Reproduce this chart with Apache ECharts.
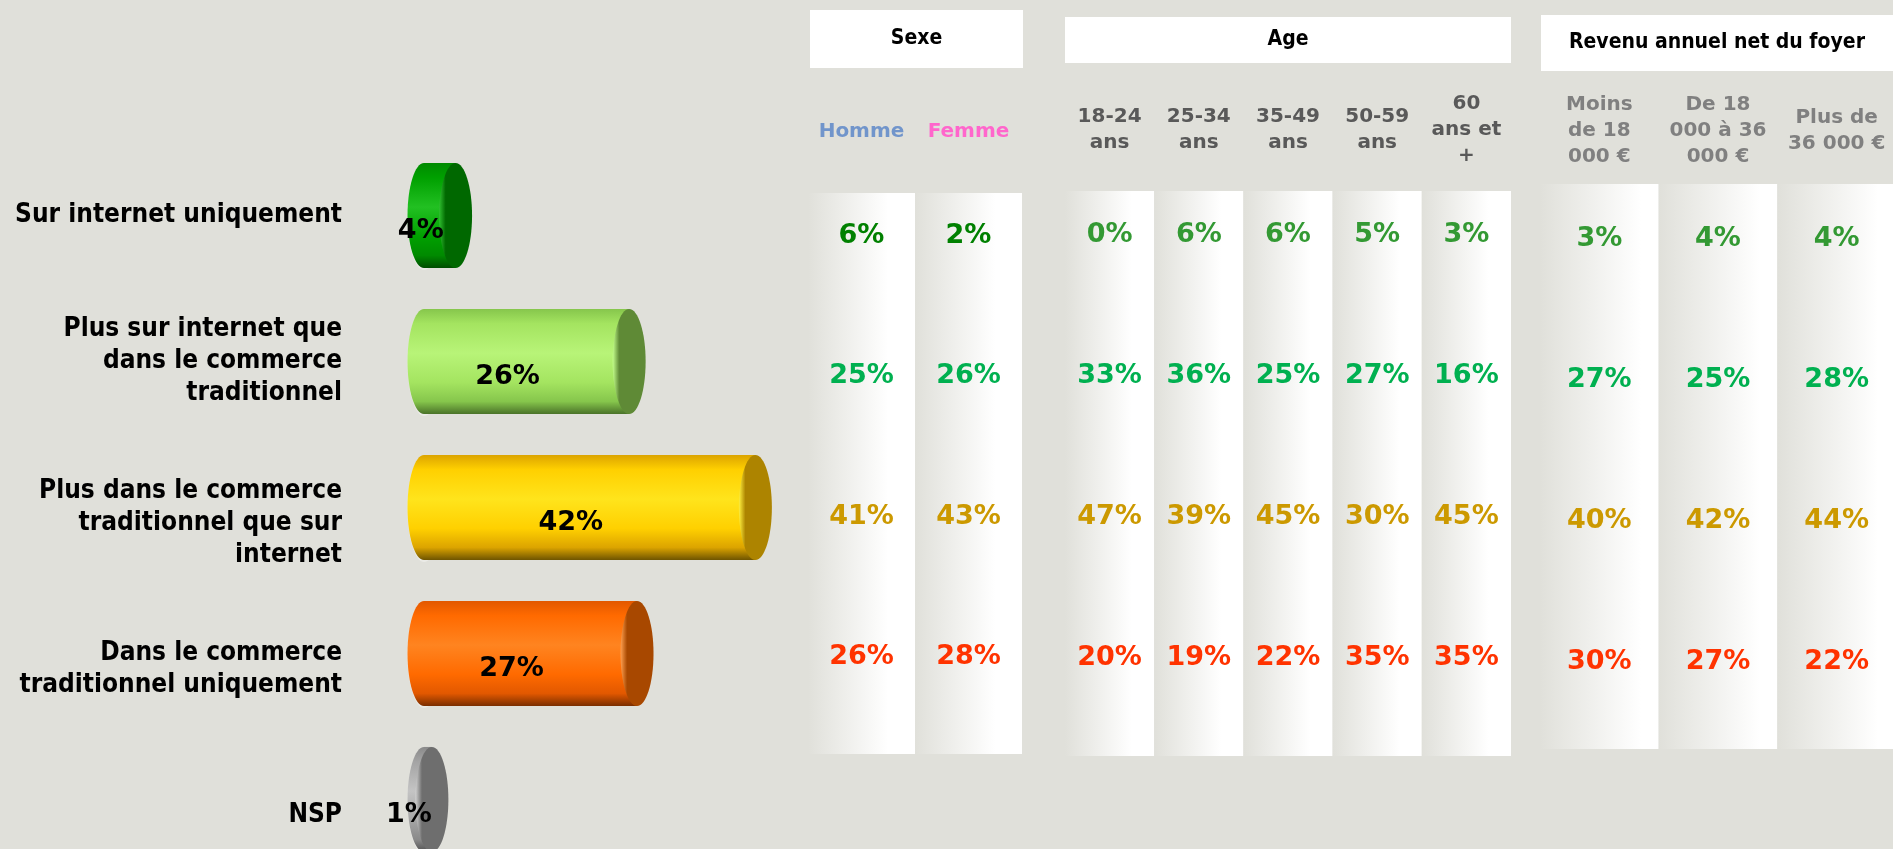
<!DOCTYPE html>
<html>
<head>
<meta charset="utf-8">
<title>Achats sur internet / commerce traditionnel</title>
<script src="https://cdn.jsdelivr.net/npm/echarts@6/dist/echarts.min.js"></script>
<style>
  html, body { margin: 0; padding: 0; background: #e0e0da; }
  #main { width: 1893px; height: 849px; }
</style>
</head>
<body>
<div id="main"></div>
<script>
// ---- data ----
var categories = [
  'Sur internet uniquement',
  'Plus sur internet que\ndans le commerce\ntraditionnel',
  'Plus dans le commerce\ntraditionnel que sur\ninternet',
  'Dans le commerce\ntraditionnel uniquement',
  'NSP'
];
var totals = [4, 26, 42, 27, 1];

var rowKeys = ['r1', 'r2', 'r3', 'r4'];

var sexeCols = ['Homme', 'Femme'];
var sexeValues = [
  [6, 2],
  [25, 26],
  [41, 43],
  [26, 28]
];

var ageCols = ['18-24\nans', '25-34\nans', '35-49\nans', '50-59\nans', '60\nans et\n+'];
var ageValues = [
  [0, 6, 6, 5, 3],
  [33, 36, 25, 27, 16],
  [47, 39, 45, 30, 45],
  [20, 19, 22, 35, 35]
];

var revenuCols = ['Moins\nde 18\n000 €', 'De 18\n000 à 36\n000 €', 'Plus de\n36 000 €'];
var revenuValues = [
  [3, 4, 4],
  [27, 25, 28],
  [40, 42, 44],
  [30, 27, 22]
];

// ---- styles ----
var BG = '#e0e0da';
var FONT = "'DejaVu Sans', Verdana, sans-serif";
var FONT_COND = "'DejaVu Sans Condensed', 'DejaVu Sans', sans-serif";

// cylinder colours: [top, main, light, bottom, cap, capLight]
var barColors = [
  ['#008a00', '#00a000', '#22c022', '#004d00', '#006800', '#30c030'],
  ['#86c64c', '#a4e460', '#b8f478', '#4a7229', '#5f8a36', '#c4ff8c'],
  ['#dca400', '#ffd000', '#ffe41c', '#6e5400', '#ad8400', '#fff040'],
  ['#e25800', '#ff6a00', '#ff8420', '#7a2e00', '#a84800', '#ffa050'],
  ['#8a8a8a', '#a4a4a4', '#c4c4c4', '#505050', '#6e6e6e', '#d0d0d0']
];
var rowColors = ['#339933', '#00b050', '#cc9900', '#ff3300'];
var sexeRow1Color = '#008000';

function vGrad(c) {
  return new echarts.graphic.LinearGradient(0, 0, 0, 1, [
    { offset: 0, color: c[0] },
    { offset: 0.14, color: c[1] },
    { offset: 0.42, color: c[2] },
    { offset: 0.7, color: c[1] },
    { offset: 0.88, color: c[0] },
    { offset: 1, color: c[3] }
  ]);
}

function renderCylinder(params, api) {
  var i = api.value(1);
  var v = api.value(0);
  var start = api.coord([0, i]);
  var end = api.coord([v, i]);
  var h = api.size([0, 1])[1] * 0.72;
  var rx = 16.5;
  var c = barColors[i];
  var x0 = start[0], xe = end[0], yc = start[1];
  return {
    type: 'group',
    children: [
      { type: 'ellipse', shape: { cx: x0, cy: yc + 1, rx: rx, ry: h / 2 + 1 },
        style: { fill: 'rgba(255,255,255,0.35)' } },
      { type: 'ellipse', shape: { cx: x0, cy: yc, rx: rx, ry: h / 2 },
        style: { fill: vGrad(c) } },
      { type: 'rect', shape: { x: x0, y: yc - h / 2, width: xe - x0, height: h },
        style: { fill: vGrad(c) } },
      { type: 'ellipse', shape: { cx: xe, cy: yc, rx: rx, ry: h / 2 },
        style: { fill: new echarts.graphic.LinearGradient(0, 0, 1, 0, [
          { offset: 0, color: c[5] },
          { offset: 0.2, color: c[4] },
          { offset: 1, color: c[4] }
        ]) } },
      { type: 'text', x: x0 + (xe - x0) / 2 - 19, y: yc + 15,
        style: { text: v + '%', fill: '#000', font: 'bold 27px ' + FONT,
                 align: 'center', verticalAlign: 'middle' } }
    ]
  };
}

function stripSeries(idx, cols, grad) {
  return {
    type: 'custom', xAxisIndex: idx, yAxisIndex: idx, silent: true,
    data: cols.map(function (c, i) { return [i, 0]; }),
    renderItem: function (params, api) {
      var p = api.coord([api.value(0), 0]);
      var bw = api.size([1, 0])[0];
      var cs = params.coordSys;
      return {
        type: 'rect',
        shape: { x: p[0] - bw / 2, y: cs.y, width: bw, height: cs.height },
        style: { fill: new echarts.graphic.LinearGradient(0, 0, 1, 0, [
          { offset: 0, color: BG },
          { offset: grad, color: '#ffffff' },
          { offset: 1, color: '#ffffff' }
        ]) }
      };
    }
  };
}

function valueSeries(idx, values, shift, firstColor) {
  var data = [];
  values.forEach(function (row, r) {
    row.forEach(function (v, c) { data.push([c, r, v]); });
  });
  return {
    type: 'custom', xAxisIndex: idx, yAxisIndex: idx, silent: true, z: 5,
    data: data,
    renderItem: function (params, api) {
      var p = api.coord([api.value(0), api.value(1)]);
      var r = api.value(1);
      return {
        type: 'text', x: p[0], y: p[1] - shift,
        style: { text: api.value(2) + '%', font: 'bold 27px ' + FONT,
                 fill: r === 0 && firstColor ? firstColor : rowColors[r],
                 align: 'center', verticalAlign: 'middle' }
      };
    }
  };
}

function colAxis(idx, cols, margin, colorFn) {
  return {
    type: 'category', gridIndex: idx, data: cols, position: 'top',
    axisLine: { show: false }, axisTick: { show: false }, splitLine: { show: false },
    axisLabel: {
      interval: 0, margin: margin, verticalAlign: 'middle',
      fontFamily: FONT, fontWeight: 'bold', fontSize: 20, lineHeight: 26,
      color: colorFn
    }
  };
}

function rowAxis(idx) {
  return {
    type: 'category', gridIndex: idx, data: rowKeys, inverse: true, show: false
  };
}

function headerBox(x, y, w, h, text) {
  return {
    type: 'group',
    children: [
      { type: 'rect', shape: { x: x, y: y, width: w, height: h }, style: { fill: '#ffffff' } },
      { type: 'text', x: x + w / 2, y: y + h / 2,
        style: { text: text, font: 'bold 21px ' + FONT_COND, fill: '#000',
                 align: 'center', verticalAlign: 'middle' } }
    ]
  };
}

var chart = echarts.init(document.getElementById('main'));
chart.setOption({
  backgroundColor: BG,
  animation: false,
  grid: [
    { left: 424, top: 142.5, width: 394.5, height: 730, outerBoundsMode: 'none' },
    { left: 808, top: 193, width: 214, height: 561, outerBoundsMode: 'none' },
    { left: 1065, top: 191, width: 446, height: 565, outerBoundsMode: 'none' },
    { left: 1540, top: 184, width: 356, height: 565, outerBoundsMode: 'none' }
  ],
  xAxis: [
    { type: 'value', gridIndex: 0, min: 0, max: 50, show: false },
    colAxis(1, sexeCols, 61, function (v, i) { return i === 0 ? '#7195cb' : '#ff66cc'; }),
    colAxis(2, ageCols, 61, function () { return '#595959'; }),
    colAxis(3, revenuCols, 53, function () { return '#808080'; })
  ],
  yAxis: [
    {
      type: 'category', gridIndex: 0, data: categories, inverse: true,
      axisLine: { show: false }, axisTick: { show: false }, splitLine: { show: false },
      axisLabel: {
        margin: 82, align: 'right', fontFamily: FONT_COND, fontWeight: 'bold',
        fontSize: 26, lineHeight: 32, color: '#000',
        // lower the last labels by half a line, as in the original layout
        formatter: function (v, i) { return i >= 2 ? '{pad|.}\n' + v : v; },
        rich: { pad: { color: 'transparent', fontSize: 26, lineHeight: 32 } }
      }
    },
    rowAxis(1), rowAxis(2), rowAxis(3)
  ],
  graphic: [
    headerBox(810, 10, 213, 58, 'Sexe'),
    headerBox(1065, 17, 446, 46, 'Age'),
    headerBox(1541, 15, 352, 56, 'Revenu annuel net du foyer')
  ],
  series: [
    {
      type: 'custom', xAxisIndex: 0, yAxisIndex: 0,
      data: totals.map(function (v, i) { return [v, i]; }),
      renderItem: renderCylinder
    },
    stripSeries(1, sexeCols, 0.75),
    stripSeries(2, ageCols, 0.75),
    stripSeries(3, revenuCols, 0.85),
    valueSeries(1, sexeValues, 27, sexeRow1Color),
    valueSeries(2, ageValues, 27, null),
    valueSeries(3, revenuValues, 16, null)
  ]
});
</script>
</body>
</html>
